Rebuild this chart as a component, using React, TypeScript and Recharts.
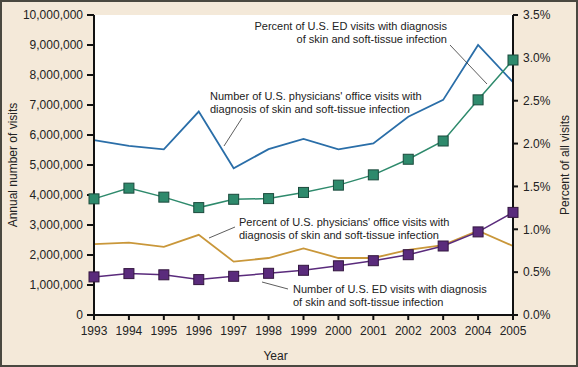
import { CartesianGrid, Line, LineChart, XAxis, YAxis } from "recharts";

const years = [1993, 1994, 1995, 1996, 1997, 1998, 1999, 2000, 2001, 2002, 2003, 2004, 2005];

// left axis: annual number of visits
const officeVisits = [5830000, 5640000, 5520000, 6780000, 4890000, 5530000, 5870000, 5520000, 5720000, 6610000, 7170000, 9000000, 7760000];
const edVisits = [1270000, 1380000, 1340000, 1180000, 1290000, 1390000, 1490000, 1640000, 1810000, 2010000, 2300000, 2770000, 3420000];

// right axis: percent of all visits
const edPercent = [1.355, 1.48, 1.375, 1.253, 1.35, 1.358, 1.43, 1.515, 1.635, 1.817, 2.03, 2.51, 2.975];
const officePercent = [0.826, 0.844, 0.795, 0.935, 0.623, 0.665, 0.777, 0.665, 0.665, 0.76, 0.815, 0.984, 0.805];

const leftTicks = [0, 1000000, 2000000, 3000000, 4000000, 5000000, 6000000, 7000000, 8000000, 9000000, 10000000];
const rightTicks = [0, 0.5, 1, 1.5, 2, 2.5, 3, 3.5];

const data = years.map((year, i) => ({
  year,
  officeVisits: officeVisits[i],
  edVisits: edVisits[i],
  edPercent: edPercent[i],
  officePercent: officePercent[i]
}));

const font = "'Liberation Sans', Arial, Helvetica, sans-serif";
const ink = "#222";

const colors = {
  blue: "#2a6ea8",
  green: "#2e8a6c",
  greenEdge: "#1b4a3c",
  orange: "#c9973a",
  purple: "#5a2b7c",
  purpleEdge: "#33163f",
  bg: "#f4e9d9"
};

function SquareDot(fill: string, edge: string) {
  return (props: any) => {
    const { cx, cy, index } = props;
    if (cx == null || cy == null) return <g key={index} />;
    return <rect key={index} x={cx - 5} y={cy - 5} width={10} height={10} fill={fill} stroke={edge} strokeWidth={1} />;
  };
}

const tickStyle = { fontSize: 12, fill: ink, fontFamily: font };

function Note({ x, y, lines, anchor = "start" }: { x: number; y: number; lines: string[]; anchor?: "start" | "end" }) {
  return (
    <text x={x} y={y} fontSize={11} fill={ink} fontFamily={font} textAnchor={anchor}>
      {lines.map((l, i) => (
        <tspan key={i} x={x} dy={i === 0 ? 0 : 13}>
          {l}
        </tspan>
      ))}
    </text>
  );
}

export default function App() {
  return (
    <div
      style={{
        position: "absolute",
        left: 0,
        top: 0,
        width: 578,
        height: 367,
        background: colors.bg,
        boxSizing: "border-box",
        border: "2px solid #4a4840"
      }}
    >
      <div style={{ position: "absolute", left: -2, top: -2 }}>
        <LineChart width={578} height={367} data={data} margin={{ top: 15, right: 0, left: 0, bottom: 0 }}>
          <CartesianGrid fill="#ffffff" horizontal={false} vertical={false} />
          <XAxis
            dataKey="year"
            type="number"
            domain={[1993, 2005]}
            ticks={years}
            height={52}
            stroke="#111"
            strokeWidth={2}
            tickSize={5}
            tickMargin={6}
            tick={tickStyle}
            label={{ value: "Year", position: "insideBottom", offset: 7, dx: -28, style: { fontSize: 12, fill: ink, fontFamily: font } }}
          />
          <YAxis
            yAxisId="left"
            domain={[0, 10000000]}
            ticks={leftTicks}
            width={94}
            stroke="#111"
            strokeWidth={2}
            tickSize={7}
            tickMargin={4}
            tick={tickStyle}
            tickFormatter={(v: number) => v.toLocaleString("en-US")}
            label={{ value: "Annual number of visits", angle: -90, position: "insideLeft", offset: 13, style: { textAnchor: "middle", fontSize: 12, fill: ink, fontFamily: font } }}
          />
          <YAxis
            yAxisId="right"
            orientation="right"
            domain={[0, 3.5]}
            ticks={rightTicks}
            width={65}
            stroke="#111"
            strokeWidth={2}
            tickSize={5}
            tickMargin={5}
            tick={tickStyle}
            tickFormatter={(v: number) => `${v.toFixed(1)}%`}
            label={{ value: "Percent of all visits", angle: -90, position: "insideRight", offset: 13, style: { textAnchor: "middle", fontSize: 12, fill: ink, fontFamily: font } }}
          />
          <Line yAxisId="left" dataKey="officeVisits" stroke={colors.blue} strokeWidth={1.8} dot={false} isAnimationActive={false} />
          <Line yAxisId="right" dataKey="officePercent" stroke={colors.orange} strokeWidth={1.8} dot={false} isAnimationActive={false} />
          <Line yAxisId="right" dataKey="edPercent" stroke={colors.green} strokeWidth={1.5} dot={SquareDot(colors.green, colors.greenEdge)} isAnimationActive={false} />
          <Line yAxisId="left" dataKey="edVisits" stroke={colors.purple} strokeWidth={1.5} dot={SquareDot(colors.purple, colors.purpleEdge)} isAnimationActive={false} />
        </LineChart>
      </div>
      <svg width={578} height={367} style={{ position: "absolute", left: -2, top: -2, pointerEvents: "none" }}>
        <Note x={447} y={30} anchor="end" lines={["Percent of U.S. ED visits with diagnosis", "of skin and soft-tissue infection"]} />
        <line x1={450} y1={45} x2={487} y2={84} stroke="#333" strokeWidth={0.8} />
        <Note x={210} y={100} lines={["Number of U.S. physicians' office visits with", "diagnosis of skin and soft-tissue infection"]} />
        <line x1={242} y1={118} x2={224} y2={146} stroke="#333" strokeWidth={0.8} />
        <Note x={239} y={226} lines={["Percent of U.S. physicians' office visits with", "diagnosis of skin and soft-tissue infection"]} />
        <line x1={235} y1={227} x2={209} y2={238} stroke="#333" strokeWidth={0.8} />
        <Note x={293} y={293} lines={["Number of U.S. ED visits with diagnosis", "of skin and soft-tissue infection"]} />
        <line x1={262} y1={282} x2={288} y2={289} stroke="#333" strokeWidth={0.8} />
      </svg>
    </div>
  );
}
